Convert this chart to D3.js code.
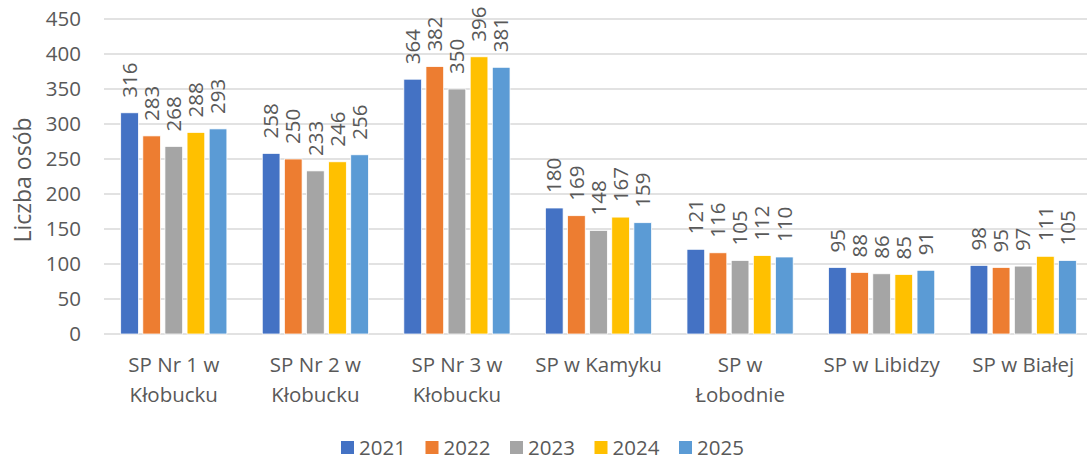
<!DOCTYPE html>
<html>
<head>
<meta charset="utf-8">
<script src="https://cdn.jsdelivr.net/npm/d3@7"></script>
<style>
  body { margin: 0; background: #fff; }
  text { font-family: "Open Sans", sans-serif; fill: #595959; }
</style>
</head>
<body>
<div id="chart"></div>
<script>
"use strict";

// data
const categories = ["SP Nr 1 w\nKłobucku", "SP Nr 2 w\nKłobucku", "SP Nr 3 w\nKłobucku",
                    "SP w Kamyku", "SP w\nŁobodnie", "SP w Libidzy", "SP w Białej"];
const years = ["2021", "2022", "2023", "2024", "2025"];
const v2021 = [316, 258, 364, 180, 121, 95, 98];
const v2022 = [283, 250, 382, 169, 116, 88, 95];
const v2023 = [268, 233, 350, 148, 105, 86, 97];
const v2024 = [288, 246, 396, 167, 112, 85, 111];
const v2025 = [293, 256, 381, 159, 110, 91, 105];
const yTicks = [0, 50, 100, 150, 200, 250, 300, 350, 400, 450];
const colors = ["#4472C4", "#ED7D31", "#A5A5A5", "#FFC000", "#5B9BD5"];

const series = [v2021, v2022, v2023, v2024, v2025];

const W = 1087, H = 460;
const svg = d3.select("#chart").append("svg")
  .attr("width", W).attr("height", H);

const x0 = d3.scaleBand().domain(categories).range([103, 1094])
  .paddingInner(0.25).paddingOuter(0.125);
const x1 = d3.scaleBand().domain(years).range([0, x0.bandwidth()])
  .paddingInner(0.2).paddingOuter(0);
const y = d3.scaleLinear().domain([0, 450]).range([334, 19]);
const color = d3.scaleOrdinal().domain(years).range(colors);

// gridlines
svg.append("g")
  .selectAll("line")
  .data(yTicks)
  .join("line")
    .attr("x1", 104).attr("x2", W)
    .attr("y1", d => y(d)).attr("y2", d => y(d))
    .attr("stroke", "#D9D9D9")
    .attr("stroke-width", 1.5);

// y axis labels
const yAxis = svg.append("g")
  .attr("transform", "translate(104,0)")
  .call(d3.axisLeft(y).tickValues(yTicks).tickSize(0).tickPadding(23));
yAxis.select(".domain").remove();
yAxis.selectAll("text")
  .style("font-family", "'Open Sans', sans-serif")
  .style("font-size", "20.5px")
  .attr("fill", "#595959");

// y title
svg.append("text")
  .attr("transform", "translate(23,180) rotate(-90)")
  .attr("text-anchor", "middle")
  .attr("dy", "0.35em")
  .style("font-size", "23px")
  .text("Liczba osób");

// bars
const rows = [];
categories.forEach((c, i) => {
  years.forEach((yr, j) => {
    rows.push({ cat: c, year: yr, value: series[j][i] });
  });
});

svg.append("g")
  .selectAll("rect")
  .data(rows)
  .join("rect")
    .attr("x", d => x0(d.cat) + x1(d.year))
    .attr("width", x1.bandwidth())
    .attr("y", d => y(d.value))
    .attr("height", d => y(0) - y(d.value))
    .attr("fill", d => color(d.year))
    .attr("stroke", "#fff")
    .attr("stroke-width", 0.75);

// value labels
svg.append("g")
  .selectAll("text")
  .data(rows)
  .join("text")
    .attr("transform", d => "translate(" + (x0(d.cat) + x1(d.year) + x1.bandwidth() / 2) +
      "," + (y(d.value) - 15) + ") rotate(-90)")
    .attr("text-anchor", "start")
    .attr("dy", "0.35em")
    .style("font-size", "20.5px")
    .attr("fill", "#404040")
    .text(d => d.value);

// category labels
const catLabels = svg.append("g")
  .selectAll("text")
  .data(categories)
  .join("text")
    .attr("x", d => x0(d) + x0.bandwidth() / 2)
    .attr("y", 372)
    .attr("text-anchor", "middle")
    .style("font-size", "20.5px");
catLabels.selectAll("tspan")
  .data(d => d.split("\n"))
  .join("tspan")
    .attr("x", function() { return this.parentNode.getAttribute("x"); })
    .attr("dy", (d, i) => i === 0 ? 0 : 30)
    .text(d => d);

// legend
const legend = svg.append("g")
  .selectAll("g")
  .data(years)
  .join("g")
    .attr("transform", (d, i) => "translate(" + (341 + i * 84.5) + ",441)");
legend.append("rect")
  .attr("width", 13).attr("height", 13)
  .attr("fill", d => color(d));
legend.append("text")
  .attr("x", 18).attr("y", 7)
  .attr("dy", "0.35em")
  .style("font-size", "20.5px")
  .text(d => d);
</script>
</body>
</html>
